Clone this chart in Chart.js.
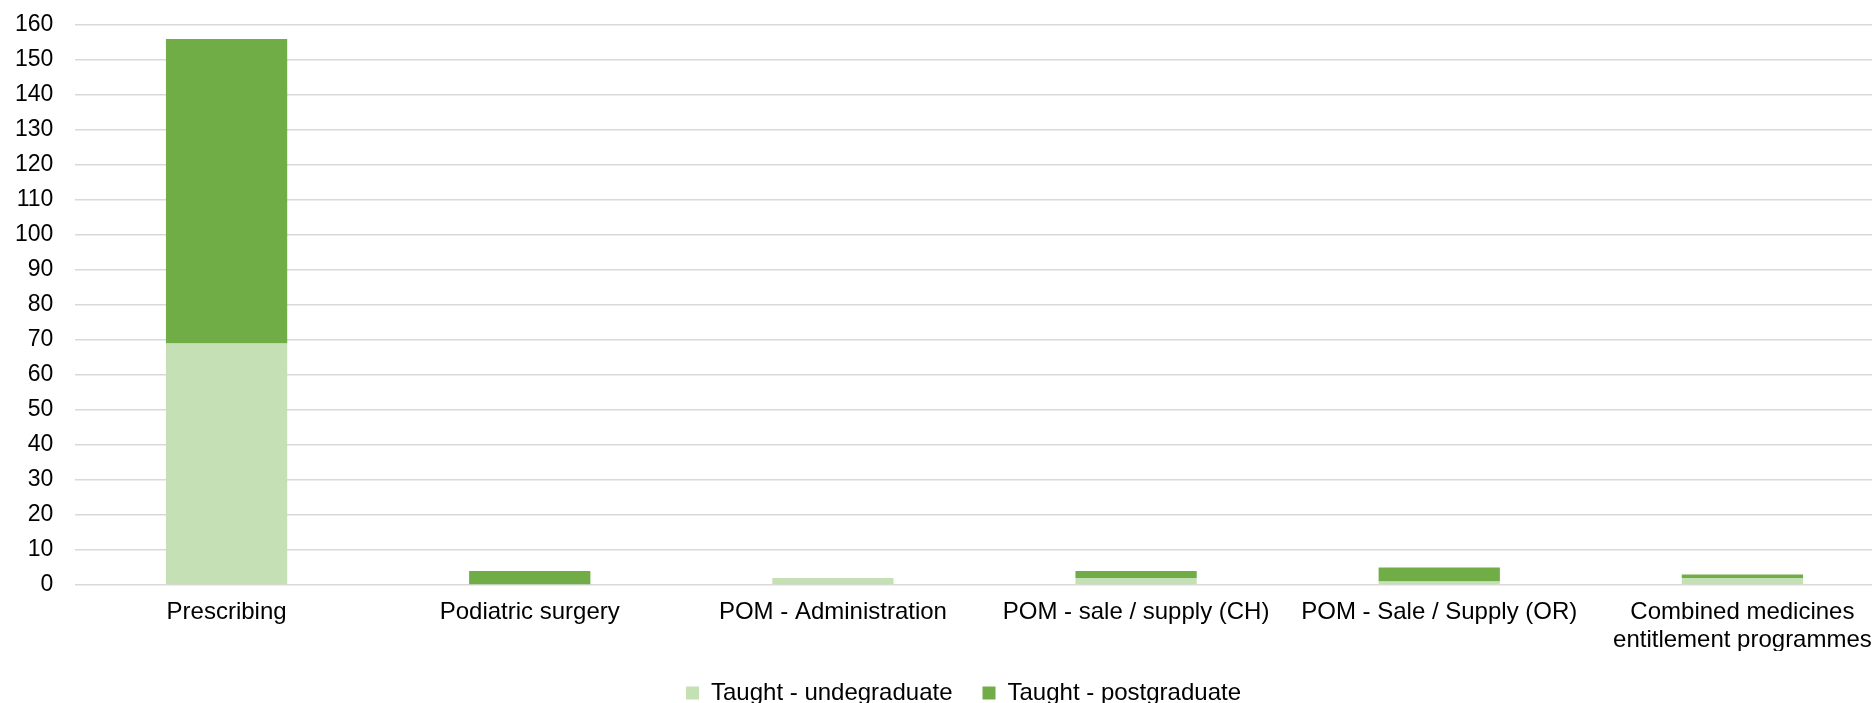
<!DOCTYPE html>
<html>
<head>
<meta charset="utf-8">
<script src="https://cdn.jsdelivr.net/npm/chart.js@4"></script>
<style>
  html, body { margin: 0; padding: 0; background: #ffffff; overflow: hidden; width: 1872px; height: 703px; }
  #wrap { position: absolute; left: 0; top: 0; width: 1894px; height: 703px; }
</style>
</head>
<body>
<div id="wrap"><canvas id="c" width="1894" height="703"></canvas></div>
<script>
const categories = [
  "Prescribing",
  "Podiatric surgery",
  "POM - Administration",
  "POM - sale / supply (CH)",
  "POM - Sale / Supply (OR)",
  ["Combined medicines", "entitlement programmes"]
];
const undergraduate = [69, 0, 2, 2, 1, 2];
const postgraduate = [87, 4, 0, 2, 4, 1];
const seriesNames = ["Taught - undegraduate", "Taught - postgraduate"];
const yMin = 0, yMax = 160, yStep = 10;

Chart.defaults.font.family = "'Liberation Sans', Arial, sans-serif";
Chart.defaults.color = "#000000";

new Chart(document.getElementById('c'), {
  type: 'bar',
  data: {
    labels: categories,
    datasets: [
      { label: seriesNames[0], data: undergraduate, backgroundColor: '#C5E0B4', borderWidth: 0 },
      { label: seriesNames[1], data: postgraduate, backgroundColor: '#70AD47', borderWidth: 0 }
    ]
  },
  options: {
    responsive: false,
    devicePixelRatio: 1,
    animation: false,
    layout: { padding: { left: 33, right: 0, top: 25, bottom: -12 } },
    categoryPercentage: 1,
    barPercentage: 0.4,
    plugins: {
      legend: {
        position: 'bottom',
        labels: { boxWidth: 13, boxHeight: 13, padding: 30, font: { size: 24 } }
      },
      tooltip: { enabled: false }
    },
    scales: {
      x: {
        stacked: true,
        grid: { display: false, drawTicks: false },
        border: { display: false },
        ticks: { font: { size: 24, lineHeight: 1.15 }, padding: 14, maxRotation: 0, autoSkip: false },
        afterFit: (scale) => { scale.height = 66; }
      },
      y: {
        stacked: true,
        min: yMin, max: yMax,
        grid: { color: '#D9D9D9', lineWidth: 1.5, drawTicks: false },
        border: { display: false },
        ticks: { stepSize: yStep, font: { size: 23 }, mirror: true, crossAlign: 'far', padding: -60 },
        afterFit: (scale) => { scale.width = 42; }
      }
    }
  }
});
</script>
</body>
</html>
